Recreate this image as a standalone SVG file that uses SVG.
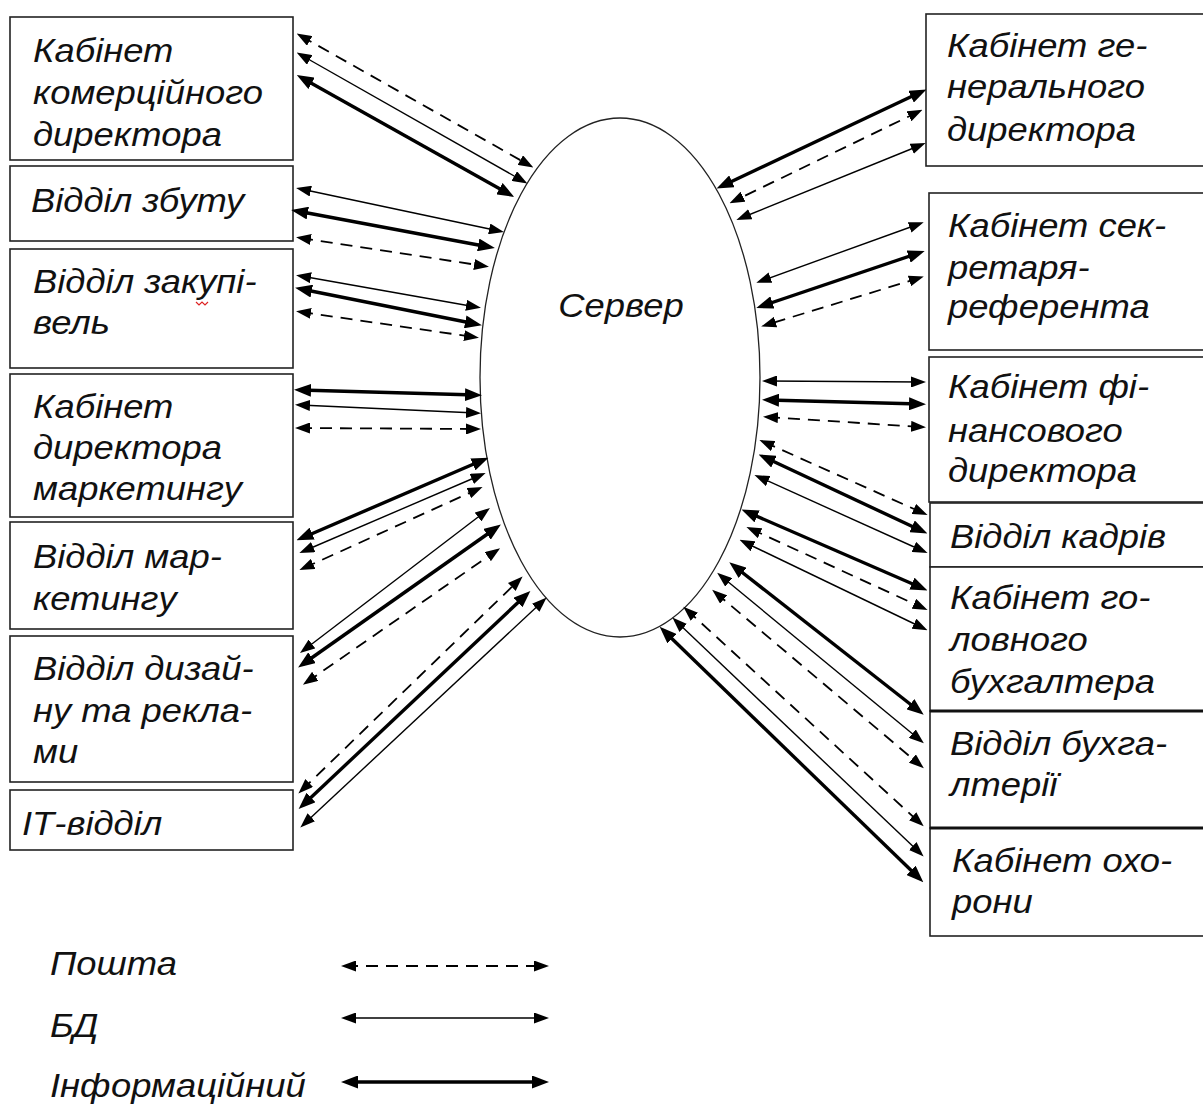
<svg xmlns="http://www.w3.org/2000/svg" width="1203" height="1106" viewBox="0 0 1203 1106">
  <style>
    .box { fill: #fff; stroke: #222; stroke-width: 1.6; }
    .lbl { font-family: "Liberation Sans", Arial, sans-serif; font-style: italic; font-size: 34px; fill: #111; }
    .mail { stroke: #000; stroke-width: 1.8; stroke-dasharray: 12 8; fill: none; marker-start: url(#hd); marker-end: url(#hd); }
    .db { stroke: #000; stroke-width: 1.4; fill: none; marker-start: url(#hn); marker-end: url(#hn); }
    .info { stroke: #000; stroke-width: 3.4; fill: none; marker-start: url(#hk); marker-end: url(#hk); }
  </style>
  <defs>
    <marker id="hn" markerUnits="userSpaceOnUse" markerWidth="15" markerHeight="11" refX="10" refY="5.5" orient="auto-start-reverse">
      <path d="M0,0 L15,5.5 L0,11 z" fill="#000"/>
    </marker>
    <marker id="hd" markerUnits="userSpaceOnUse" markerWidth="15" markerHeight="11" refX="10" refY="5.5" orient="auto-start-reverse">
      <path d="M0,0 L15,5.5 L0,11 z" fill="#000"/>
    </marker>
    <marker id="hk" markerUnits="userSpaceOnUse" markerWidth="17" markerHeight="13" refX="11" refY="6.5" orient="auto-start-reverse">
      <path d="M0,0 L17,6.5 L0,13 z" fill="#000"/>
    </marker>
  </defs>

  <rect width="1203" height="1106" fill="#fff"/>

  <!-- central server -->
  <g id="server">
    <ellipse cx="620" cy="377.5" rx="140" ry="259.5" fill="#fff" stroke="#222" stroke-width="1.3"/>
    <g transform="translate(621,0) scale(1.07,1)">
      <text class="lbl" x="0" y="317" text-anchor="middle">Сервер</text>
    </g>
  </g>

  <!-- left-hand departments -->
  <g id="n-komerc">
    <rect class="box" x="10" y="17" width="283" height="143"/>
    <g transform="translate(33,0) scale(1.07,1)">
      <text class="lbl" x="0" y="62">Кабінет</text>
      <text class="lbl" x="0" y="104">комерційного</text>
      <text class="lbl" x="0" y="146">директора</text>
    </g>
  </g>
  <g id="n-zbut">
    <rect class="box" x="10" y="166" width="283" height="75"/>
    <g transform="translate(31,0) scale(1.07,1)">
      <text class="lbl" x="0" y="212">Відділ збуту</text>
    </g>
  </g>
  <g id="n-zakup">
    <rect class="box" x="10" y="249" width="283" height="119"/>
    <g transform="translate(33,0) scale(1.07,1)">
      <text class="lbl" x="0" y="293">Відділ закупі-</text>
      <text class="lbl" x="0" y="334">вель</text>
    </g>
    <path d="M196,302 l3,3 l3,-3 l3,3 l3,-3" fill="none" stroke="#d22" stroke-width="1.2"/>
  </g>
  <g id="n-dirmark">
    <rect class="box" x="10" y="374" width="283" height="143"/>
    <g transform="translate(33,0) scale(1.07,1)">
      <text class="lbl" x="0" y="418">Кабінет</text>
      <text class="lbl" x="0" y="459">директора</text>
      <text class="lbl" x="0" y="500">маркетингу</text>
    </g>
  </g>
  <g id="n-mark">
    <rect class="box" x="10" y="522" width="283" height="107"/>
    <g transform="translate(33,0) scale(1.07,1)">
      <text class="lbl" x="0" y="568">Відділ мар-</text>
      <text class="lbl" x="0" y="610">кетингу</text>
    </g>
  </g>
  <g id="n-design">
    <rect class="box" x="10" y="636" width="283" height="146"/>
    <g transform="translate(33,0) scale(1.07,1)">
      <text class="lbl" x="0" y="680">Відділ дизай-</text>
      <text class="lbl" x="0" y="722">ну та рекла-</text>
      <text class="lbl" x="0" y="763">ми</text>
    </g>
  </g>
  <g id="n-it">
    <rect class="box" x="10" y="790" width="283" height="60"/>
    <g transform="translate(22,0) scale(1.07,1)">
      <text class="lbl" x="0" y="835">ІТ-відділ</text>
    </g>
  </g>

  <!-- right-hand departments -->
  <g id="n-gendir">
    <rect class="box" x="926" y="14" width="290" height="152"/>
    <g transform="translate(947,0) scale(1.07,1)">
      <text class="lbl" x="0" y="57">Кабінет ге-</text>
      <text class="lbl" x="0" y="98">нерального</text>
      <text class="lbl" x="0" y="141">директора</text>
    </g>
  </g>
  <g id="n-secr">
    <rect class="box" x="929" y="193" width="290" height="157"/>
    <g transform="translate(948,0) scale(1.07,1)">
      <text class="lbl" x="0" y="237">Кабінет сек-</text>
      <text class="lbl" x="0" y="279">ретаря-</text>
      <text class="lbl" x="0" y="318">референта</text>
    </g>
  </g>
  <g id="n-findir">
    <rect class="box" x="929" y="357" width="290" height="145"/>
    <g transform="translate(948,0) scale(1.07,1)">
      <text class="lbl" x="0" y="398">Кабінет фі-</text>
      <text class="lbl" x="0" y="442">нансового</text>
      <text class="lbl" x="0" y="482">директора</text>
    </g>
  </g>
  <g id="n-kadry">
    <rect class="box" x="930" y="503" width="290" height="64"/>
    <g transform="translate(950,0) scale(1.07,1)">
      <text class="lbl" x="0" y="548">Відділ кадрів</text>
    </g>
  </g>
  <g id="n-golbuh">
    <rect class="box" x="930" y="567" width="290" height="144"/>
    <g transform="translate(950,0) scale(1.07,1)">
      <text class="lbl" x="0" y="609">Кабінет го-</text>
      <text class="lbl" x="0" y="651">ловного</text>
      <text class="lbl" x="0" y="693">бухгалтера</text>
    </g>
  </g>
  <g id="n-buh">
    <rect class="box" x="930" y="711" width="290" height="117"/>
    <line x1="930" y1="711" x2="1203" y2="711" stroke="#111" stroke-width="3"/>
    <g transform="translate(950,0) scale(1.07,1)">
      <text class="lbl" x="0" y="755">Відділ бухга-</text>
      <text class="lbl" x="0" y="796">лтерії</text>
    </g>
  </g>
  <g id="n-ohorona">
    <rect class="box" x="930" y="828" width="290" height="108"/>
    <line x1="930" y1="828" x2="1203" y2="828" stroke="#111" stroke-width="3"/>
    <g transform="translate(952,0) scale(1.07,1)">
      <text class="lbl" x="0" y="872">Кабінет охо-</text>
      <text class="lbl" x="0" y="913">рони</text>
    </g>
  </g>

  <!-- links between departments and the server -->
  <g id="connectors">
    <!-- left side -->
    <line class="mail" x1="301" y1="36" x2="529" y2="165"/>
    <line class="db" x1="301" y1="55" x2="523" y2="181"/>
    <line class="info" x1="302" y1="78" x2="509" y2="194"/>

    <line class="db" x1="301" y1="189" x2="499" y2="231"/>
    <line class="info" x1="297" y1="211" x2="489" y2="247"/>
    <line class="mail" x1="301" y1="238" x2="484" y2="266"/>

    <line class="db" x1="301" y1="276" x2="476" y2="307"/>
    <line class="info" x1="301" y1="289" x2="476" y2="324"/>
    <line class="mail" x1="301" y1="312" x2="474" y2="337"/>

    <line class="info" x1="300" y1="390" x2="476" y2="395"/>
    <line class="db" x1="300" y1="405" x2="476" y2="413"/>
    <line class="mail" x1="300" y1="428" x2="476" y2="429"/>

    <line class="info" x1="302" y1="538" x2="483" y2="460"/>
    <line class="db" x1="304" y1="551" x2="481" y2="475"/>
    <line class="mail" x1="304" y1="568" x2="478" y2="489"/>

    <line class="db" x1="304" y1="650" x2="486" y2="511"/>
    <line class="info" x1="303" y1="664" x2="496" y2="528"/>
    <line class="mail" x1="307" y1="682" x2="496" y2="551"/>

    <line class="mail" x1="302" y1="790" x2="519" y2="580"/>
    <line class="info" x1="303" y1="805" x2="526" y2="595"/>
    <line class="db" x1="304" y1="824" x2="543" y2="601"/>

    <!-- right side -->
    <line class="info" x1="921" y1="92" x2="722" y2="186"/>
    <line class="mail" x1="918" y1="112" x2="734" y2="201"/>
    <line class="db" x1="921" y1="145" x2="741" y2="218"/>

    <line class="db" x1="919" y1="224" x2="761" y2="281"/>
    <line class="info" x1="919" y1="253" x2="762" y2="306"/>
    <line class="mail" x1="919" y1="278" x2="766" y2="325"/>

    <line class="db" x1="767" y1="381" x2="921" y2="382"/>
    <line class="info" x1="768" y1="400" x2="920" y2="404"/>
    <line class="mail" x1="768" y1="417" x2="921" y2="427"/>

    <line class="mail" x1="764" y1="442" x2="923" y2="513"/>
    <line class="info" x1="764" y1="457" x2="922" y2="531"/>
    <line class="db" x1="759" y1="477" x2="923" y2="551"/>

    <line class="info" x1="747" y1="512" x2="922" y2="588"/>
    <line class="mail" x1="751" y1="529" x2="923" y2="608"/>
    <line class="db" x1="744" y1="542" x2="923" y2="628"/>

    <line class="info" x1="734" y1="566" x2="919" y2="711"/>
    <line class="db" x1="721" y1="576" x2="920" y2="740"/>
    <line class="mail" x1="716" y1="593" x2="920" y2="765"/>

    <line class="mail" x1="687" y1="610" x2="920" y2="823"/>
    <line class="db" x1="676" y1="621" x2="920" y2="853"/>
    <line class="info" x1="664" y1="631" x2="919" y2="878"/>
  </g>

  <!-- legend -->
  <g id="legend">
    <g transform="translate(50,0) scale(1.07,1)">
      <text class="lbl" x="0" y="975">Пошта</text>
      <text class="lbl" x="0" y="1037">БД</text>
      <text class="lbl" x="0" y="1097">Інформаційний</text>
    </g>
    <line class="mail" x1="346" y1="966" x2="544" y2="966" stroke-dasharray="9 6"/>
    <line class="db" x1="346" y1="1018" x2="544" y2="1018"/>
    <line class="info" x1="347" y1="1082" x2="543" y2="1082" stroke-width="2.4"/>
  </g>
</svg>
